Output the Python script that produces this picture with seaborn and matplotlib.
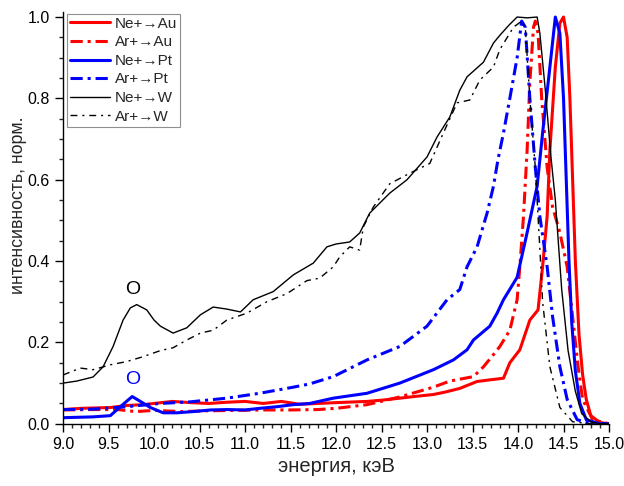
import matplotlib
matplotlib.use("Agg")
import numpy as np
import pandas as pd
import matplotlib.pyplot as plt
import seaborn as sns
from matplotlib.ticker import MultipleLocator, FormatStrFormatter

# values (energy in keV, normalised intensity)
ne_au_e = [9.0, 9.2, 9.52, 9.7, 9.88, 10.0, 10.2, 10.4, 10.6, 10.8, 11.0, 11.2, 11.4, 11.6, 11.8,
           12.0, 12.34, 12.5, 12.7, 12.9, 13.07, 13.2, 13.36, 13.55, 13.69, 13.84, 13.91, 14.02,
           14.13, 14.22, 14.27, 14.32, 14.35, 14.41, 14.46, 14.5, 14.54, 14.57, 14.6, 14.63,
           14.67, 14.71, 14.75, 14.8, 14.9, 15.0]
ne_au_i = [0.035, 0.038, 0.04, 0.045, 0.047, 0.05, 0.055, 0.052, 0.05, 0.053, 0.055, 0.05, 0.055,
           0.048, 0.05, 0.052, 0.055, 0.058, 0.063, 0.068, 0.072, 0.078, 0.087, 0.104, 0.108,
           0.112, 0.15, 0.182, 0.255, 0.28, 0.386, 0.51, 0.673, 0.877, 0.985, 1.0, 0.95, 0.80,
           0.60, 0.40, 0.22, 0.12, 0.06, 0.02, 0.003, 0.0]

ar_au_e = [9.0, 9.3, 9.6, 9.8, 10.0, 10.3, 10.6, 10.9, 11.2, 11.5, 11.8, 12.0, 12.34, 12.7, 13.07,
           13.25, 13.51, 13.62, 13.73, 13.8, 13.91, 13.99, 14.02, 14.06, 14.1, 14.13, 14.17,
           14.19, 14.22, 14.26, 14.32, 14.38, 14.46, 14.54, 14.6, 14.66, 14.71, 14.82, 15.0]
ar_au_i = [0.034, 0.035, 0.035, 0.03, 0.033, 0.03, 0.032, 0.033, 0.034, 0.034, 0.035, 0.038,
           0.047, 0.066, 0.09, 0.105, 0.116, 0.14, 0.17, 0.19, 0.23, 0.305, 0.386, 0.51, 0.673,
           0.84, 0.975, 0.99, 0.96, 0.80, 0.63, 0.533, 0.47, 0.386, 0.263, 0.14, 0.06, 0.01, 0.0]

ne_pt_e = [9.0, 9.33, 9.52, 9.63, 9.76, 9.85, 9.96, 10.1, 10.25, 10.43, 10.62, 10.8, 11.0, 11.16,
           11.35, 11.53, 11.71, 11.97, 12.34, 12.7, 13.07, 13.29, 13.44, 13.51, 13.69, 13.77,
           13.84, 13.99, 14.1, 14.21, 14.27, 14.35, 14.41, 14.46, 14.5, 14.53, 14.56, 14.59,
           14.63, 14.68, 14.75, 14.9, 15.0]
ne_pt_i = [0.015, 0.017, 0.02, 0.042, 0.067, 0.055, 0.04, 0.027, 0.027, 0.03, 0.034, 0.035, 0.034,
           0.038, 0.042, 0.047, 0.05, 0.063, 0.075, 0.10, 0.133, 0.157, 0.182, 0.206, 0.24,
           0.272, 0.305, 0.36, 0.47, 0.584, 0.715, 0.877, 1.0, 0.96, 0.80, 0.60, 0.40, 0.25,
           0.13, 0.05, 0.01, 0.0, 0.0]

ar_pt_e = [9.0, 9.33, 9.7, 10.07, 10.4, 10.8, 11.16, 11.53, 11.71, 11.97, 12.34, 12.7, 13.0,
           13.22, 13.36, 13.44, 13.55, 13.66, 13.73, 13.78, 13.84, 13.91, 13.99, 14.04, 14.08,
           14.13, 14.19, 14.24, 14.32, 14.38, 14.46, 14.54, 14.65, 14.8, 15.0]
ar_pt_i = [0.035, 0.036, 0.042, 0.05, 0.054, 0.063, 0.075, 0.09, 0.098, 0.116, 0.157, 0.19, 0.24,
           0.305, 0.33, 0.386, 0.435, 0.518, 0.584, 0.65, 0.715, 0.80, 0.90, 0.99, 0.975, 0.80,
           0.63, 0.51, 0.386, 0.263, 0.14, 0.06, 0.01, 0.0, 0.0]

ne_w_e = [9.0, 9.15, 9.33, 9.44, 9.55, 9.66, 9.74, 9.81, 9.92, 10.0, 10.07, 10.21, 10.36, 10.51,
          10.65, 10.8, 10.95, 11.09, 11.31, 11.53, 11.75, 11.9, 12.0, 12.15, 12.26, 12.37, 12.59,
          12.78, 13.0, 13.11, 13.25, 13.36, 13.44, 13.62, 13.73, 13.8, 13.9, 13.99, 14.1, 14.21,
          14.24, 14.3, 14.36, 14.41, 14.48, 14.55, 14.63, 14.7, 14.8, 14.9, 15.0]
ne_w_i = [0.10, 0.105, 0.115, 0.14, 0.19, 0.255, 0.285, 0.293, 0.28, 0.255, 0.24, 0.223, 0.236,
          0.268, 0.287, 0.282, 0.275, 0.305, 0.325, 0.366, 0.395, 0.435, 0.442, 0.447, 0.469,
          0.518, 0.567, 0.60, 0.656, 0.705, 0.754, 0.82, 0.853, 0.889, 0.936, 0.955, 0.98, 1.0,
          0.998, 1.0, 0.96, 0.82, 0.66, 0.55, 0.33, 0.18, 0.08, 0.025, 0.005, 0.0, 0.0]

ar_w_e = [9.0, 9.19, 9.33, 9.52, 9.7, 9.88, 10.07, 10.21, 10.36, 10.51, 10.65, 10.8, 11.02, 11.24,
          11.46, 11.68, 11.82, 11.97, 12.04, 12.15, 12.26, 12.3, 12.41, 12.59, 12.81, 13.03,
          13.18, 13.33, 13.47, 13.58, 13.73, 13.8, 13.95, 14.04, 14.08, 14.13, 14.19, 14.24,
          14.27, 14.35, 14.46, 14.6, 14.8, 15.0]
ar_w_i = [0.12, 0.137, 0.133, 0.145, 0.153, 0.165, 0.18, 0.187, 0.206, 0.223, 0.23, 0.255, 0.272,
          0.30, 0.32, 0.352, 0.358, 0.386, 0.41, 0.435, 0.427, 0.484, 0.533, 0.59, 0.616, 0.64,
          0.715, 0.789, 0.796, 0.845, 0.877, 0.92, 0.975, 0.99, 0.975, 0.80, 0.63, 0.43, 0.30,
          0.14, 0.04, 0.005, 0.0, 0.0]

series = [
    ("Ne+\u2192Au", ne_au_e, ne_au_i, "#ff0000", "-", 2.2),
    ("Ar+\u2192Au", ar_au_e, ar_au_i, "#ff0000", (0, (4, 1.6, 1, 1.6)), 2.2),
    ("Ne+\u2192Pt", ne_pt_e, ne_pt_i, "#0000ff", "-", 2.2),
    ("Ar+\u2192Pt", ar_pt_e, ar_pt_i, "#0000ff", (0, (4, 1.6, 1, 1.6)), 2.2),
    ("Ne+\u2192W", ne_w_e, ne_w_i, "black", "-", 1.0),
    ("Ar+\u2192W", ar_w_e, ar_w_i, "black", (0, (5, 3.5, 1.5, 3.5)), 1.0),
]

sns.set_style("ticks")
plt.rcParams["font.family"] = ["Liberation Sans", "DejaVu Sans"]

fig = plt.figure(figsize=(6.24, 4.86), dpi=100)
ax = fig.add_axes([0.101, 0.128, 0.875, 0.847])

for name, e, i, col, ls, lw in series:
    df = pd.DataFrame({"energy": e, "intensity": i})
    sns.lineplot(data=df, x="energy", y="intensity", color=col, linestyle=ls,
                 linewidth=lw, label=name, ax=ax)

ax.text(9.77, 0.31, "O", fontsize=14, color="black", ha="center", va="bottom")
ax.text(9.77, 0.088, "O", fontsize=14, color="#0000ff", ha="center", va="bottom")

ax.set_xlim(9.0, 15.0)
ax.set_ylim(0.0, 1.012)
ax.xaxis.set_major_locator(MultipleLocator(0.5))
ax.xaxis.set_minor_locator(MultipleLocator(0.1))
ax.yaxis.set_major_locator(MultipleLocator(0.2))
ax.yaxis.set_minor_locator(MultipleLocator(0.05))
ax.xaxis.set_major_formatter(FormatStrFormatter("%.1f"))
ax.yaxis.set_major_formatter(FormatStrFormatter("%.1f"))
ax.tick_params(which="major", direction="out", length=6, width=1, labelsize=11.5, colors="black")
ax.tick_params(which="minor", direction="out", length=3, width=1)
for s in ["top", "right"]:
    ax.spines[s].set_visible(False)
for s in ["left", "bottom"]:
    ax.spines[s].set_color("black")
    ax.spines[s].set_linewidth(1)

ax.set_xlabel("энергия, кэВ", fontsize=14.5, labelpad=3.5)
ax.set_ylabel("интенсивность, норм.", fontsize=12.8)
ax.yaxis.set_label_coords(-0.066, 0.532)

leg = ax.legend(loc="upper left", bbox_to_anchor=(0.005, 1.0), fontsize=11, frameon=True,
                fancybox=False, edgecolor="0.45", handlelength=2.6, handletextpad=0.3,
                labelspacing=0.3, borderpad=0.2, borderaxespad=0.1)
leg.get_frame().set_linewidth(0.8)

fig.savefig("out.png", dpi=100)
